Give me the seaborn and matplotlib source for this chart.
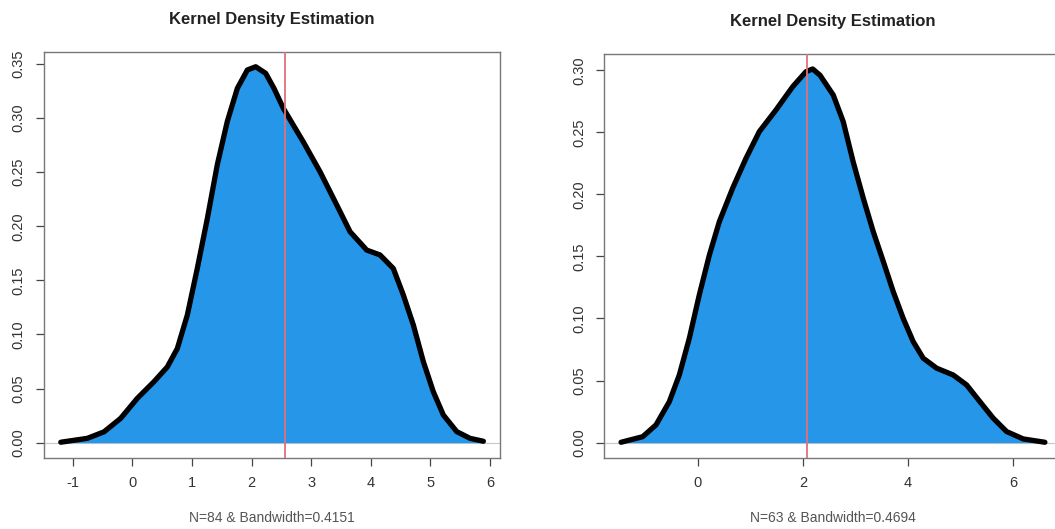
import numpy as np
import matplotlib
matplotlib.use("Agg")
import matplotlib.pyplot as plt
import seaborn as sns

# density curves (x, density)
left_x = [-1.20, -0.755, -0.475, -0.195, 0.084, 0.364, 0.587, 0.755, 0.923, 1.09, 1.258,
          1.426, 1.594, 1.762, 1.93, 2.07, 2.238, 2.377, 2.534, 2.869, 3.149, 3.43,
          3.653, 3.933, 4.156, 4.379, 4.547, 4.715, 4.883, 5.05, 5.218, 5.443, 5.666, 5.89]
left_y = [0.0004, 0.004, 0.010, 0.0225, 0.041, 0.0564, 0.070, 0.087, 0.118, 0.161, 0.207,
          0.257, 0.297, 0.3275, 0.3445, 0.3475, 0.3414, 0.3275, 0.309, 0.278, 0.2505, 0.2197,
          0.195, 0.178, 0.1735, 0.161, 0.1365, 0.1088, 0.0749, 0.0471, 0.0256, 0.0102, 0.004, 0.0013]
left_mean = 2.556
left_label = "N=84 & Bandwidth=0.4151"

right_x = [-1.458, -1.046, -0.793, -0.540, -0.350, -0.160, 0.030, 0.221, 0.411, 0.665, 0.918,
           1.171, 1.489, 1.806, 2.059, 2.186, 2.325, 2.578, 2.768, 2.958, 3.148, 3.338,
           3.529, 3.719, 3.909, 4.099, 4.289, 4.543, 4.859, 5.114, 5.367, 5.62, 5.875,
           6.19, 6.603]
right_y = [0.0003, 0.0048, 0.0143, 0.033, 0.0545, 0.084, 0.119, 0.151, 0.178, 0.205, 0.229,
           0.2505, 0.268, 0.2867, 0.2988, 0.301, 0.296, 0.280, 0.2585, 0.226, 0.197, 0.170,
           0.146, 0.1216, 0.100, 0.0813, 0.068, 0.060, 0.0545, 0.0465, 0.033, 0.0197, 0.0089,
           0.003, 0.0003]
right_mean = 2.075
right_label = "N=63 & Bandwidth=0.4694"

left_xticks = [-1, 0, 1, 2, 3, 4, 5, 6]
left_yticks = [0.00, 0.05, 0.10, 0.15, 0.20, 0.25, 0.30, 0.35]
right_xticks = [0, 2, 4, 6]
right_yticks = [0.00, 0.05, 0.10, 0.15, 0.20, 0.25, 0.30]

FILL = "#2696e8"
MEAN_COL = "#e0707a"
FRAME = "#777777"

sns.set_style("white")
plt.rcParams['font.family'] = ['Liberation Sans', 'DejaVu Sans']

fig = plt.figure(figsize=(10.55, 5.29), dpi=100)
ax1 = fig.add_axes([0.0416, 0.1348, 0.4326, 0.7675])
ax2 = fig.add_axes([0.5726, 0.1350, 0.4339, 0.7629])


def draw_panel(ax, xs, ys, mean, label, xticks, yticks):
    xs = np.asarray(xs)
    ys = np.asarray(ys)
    # R style 4% padding
    pad_x = (xs.max() - xs.min()) * 0.04
    pad_y = ys.max() * 0.04
    ax.set_xlim(xs.min() - pad_x, xs.max() + pad_x)
    ax.set_ylim(-pad_y, ys.max() + pad_y)

    ax.axhline(0, color="#c8c8c8", lw=0.8, zorder=1)
    ax.fill_between(xs, ys, 0, color=FILL, lw=0, zorder=2)
    # closed outline (curve + base)
    sns.lineplot(x=np.append(xs, xs[0]), y=np.append(ys, ys[0]), sort=False,
                 color="black", lw=3.8, ax=ax, zorder=3,
                 solid_capstyle="round", solid_joinstyle="round")
    ax.axvline(mean, color=MEAN_COL, lw=1.3, zorder=4)

    ax.set_xticks(xticks)
    ax.set_xticklabels([str(t) for t in xticks])
    ax.set_yticks(yticks)
    ax.set_yticklabels([f"{t:.2f}" for t in yticks], rotation=90, va="center")
    ax.tick_params(axis="both", direction="out", width=0.9, color="#444444",
                   labelsize=10.5, labelcolor="#333333", bottom=True, left=True)
    ax.tick_params(axis="x", length=5.5, pad=8)
    ax.tick_params(axis="y", length=6, pad=7)
    for sp in ax.spines.values():
        sp.set_visible(True)
        sp.set_color(FRAME)
        sp.set_linewidth(1.0)
    ax.set_xlabel(label, fontsize=10, color="#555555", labelpad=15)
    ax.set_ylabel("")
    ax.set_title("Kernel Density Estimation", fontsize=12, fontweight="bold",
                 color="#222222", pad=20)


draw_panel(ax1, left_x, left_y, left_mean, left_label, left_xticks, left_yticks)
draw_panel(ax2, right_x, right_y, right_mean, right_label, right_xticks, right_yticks)

fig.savefig("out.png", dpi=100)
